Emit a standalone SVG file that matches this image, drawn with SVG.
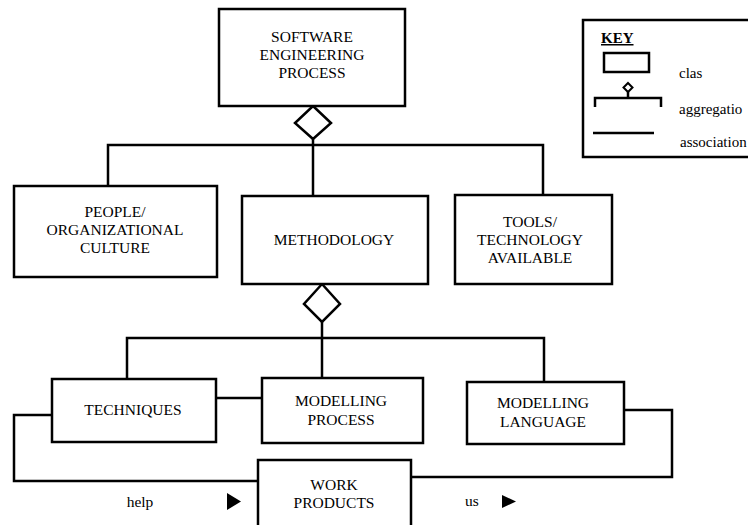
<svg xmlns="http://www.w3.org/2000/svg" width="748" height="525" viewBox="0 0 748 525">
  <style>
    .box { fill: #fff; stroke: #000; stroke-width: 2.5; }
    .ln { fill: none; stroke: #000; stroke-width: 2.5; }
    .dia { fill: #fff; stroke: #000; stroke-width: 2.5; stroke-linejoin: miter; }
    text { font-family: 'Liberation Serif', 'DejaVu Serif', 'Times New Roman', serif; fill: #000; }
    .lbl { font-size: 15.5px; text-anchor: middle; }
    .note { font-size: 15px; }
    .key { font-size: 15px; font-weight: bold; text-decoration: underline; }
  </style>
  <rect width="748" height="525" fill="#fff"/>

  <!-- connectors -->
  <g id="connectors">
    <!-- process aggregation -->
    <polyline class="ln" points="108,186 108,145 543,145 543,195"/>
    <line class="ln" x1="313" y1="139" x2="313" y2="196"/>
    <!-- methodology aggregation -->
    <polyline class="ln" points="127,379 127,338 544,338 544,382"/>
    <line class="ln" x1="322" y1="322" x2="322" y2="378"/>
    <!-- techniques to modelling process -->
    <line class="ln" x1="216" y1="398" x2="262" y2="398"/>
    <!-- techniques to work products -->
    <polyline class="ln" points="52,415 14,415 14,481 258,481"/>
    <!-- modelling language to work products -->
    <polyline class="ln" points="624,410 672,410 672,477 411,477"/>
    <!-- aggregation diamonds -->
    <polygon class="dia" points="313,106 331,123 313,139 295,123"/>
    <polygon class="dia" points="322,284 340,304 322,322 304,304"/>
    <!-- direction arrows -->
    <polygon points="227,493 241,501.5 227,510" fill="#000"/>
    <polygon points="502,495 516,501.5 502,508" fill="#000"/>
    <text class="lbl" x="140" y="507">help</text>
    <text class="lbl" x="472" y="506">us</text>
  </g>

  <g id="software-engineering-process">
    <rect class="box" x="219" y="9" width="186" height="97"/>
    <text class="lbl" x="312" y="42">SOFTWARE</text>
    <text class="lbl" x="312" y="60">ENGINEERING</text>
    <text class="lbl" x="312" y="78">PROCESS</text>
  </g>

  <g id="people-culture">
    <rect class="box" x="14" y="186" width="203" height="91"/>
    <text class="lbl" x="115" y="217">PEOPLE/</text>
    <text class="lbl" x="115" y="235">ORGANIZATIONAL</text>
    <text class="lbl" x="115" y="253">CULTURE</text>
  </g>

  <g id="methodology">
    <rect class="box" x="242" y="196" width="186" height="88"/>
    <text class="lbl" x="334" y="245">METHODOLOGY</text>
  </g>

  <g id="tools-technology">
    <rect class="box" x="455" y="195" width="157" height="89"/>
    <text class="lbl" x="530" y="227">TOOLS/</text>
    <text class="lbl" x="530" y="245">TECHNOLOGY</text>
    <text class="lbl" x="530" y="263">AVAILABLE</text>
  </g>

  <g id="techniques">
    <rect class="box" x="52" y="379" width="164" height="63"/>
    <text class="lbl" x="133" y="415">TECHNIQUES</text>
  </g>

  <g id="modelling-process">
    <rect class="box" x="262" y="378" width="161" height="65"/>
    <text class="lbl" x="341" y="406">MODELLING</text>
    <text class="lbl" x="341" y="425">PROCESS</text>
  </g>

  <g id="modelling-language">
    <rect class="box" x="467" y="382" width="157" height="62"/>
    <text class="lbl" x="543" y="408">MODELLING</text>
    <text class="lbl" x="543" y="427">LANGUAGE</text>
  </g>

  <g id="work-products">
    <rect class="box" x="258" y="460" width="153" height="75"/>
    <text class="lbl" x="334" y="490">WORK</text>
    <text class="lbl" x="334" y="508">PRODUCTS</text>
  </g>

  <g id="key">
    <rect class="box" x="583" y="20" width="180" height="137"/>
    <text class="key" x="601" y="43">KEY</text>
    <rect class="box" x="604" y="53" width="45" height="19"/>
    <text class="note" x="679" y="78">clas</text>
    <polyline class="ln" points="595,107 595,98 661,98 661,107"/>
    <line class="ln" x1="628" y1="92" x2="628" y2="98"/>
    <polygon class="dia" points="628,83 632.5,87.5 628,92 623.5,87.5" style="stroke-width:2"/>
    <text class="note" x="679" y="114">aggregatio</text>
    <line class="ln" x1="593" y1="133" x2="654" y2="133"/>
    <text class="note" x="680" y="147">association</text>
  </g>
</svg>
